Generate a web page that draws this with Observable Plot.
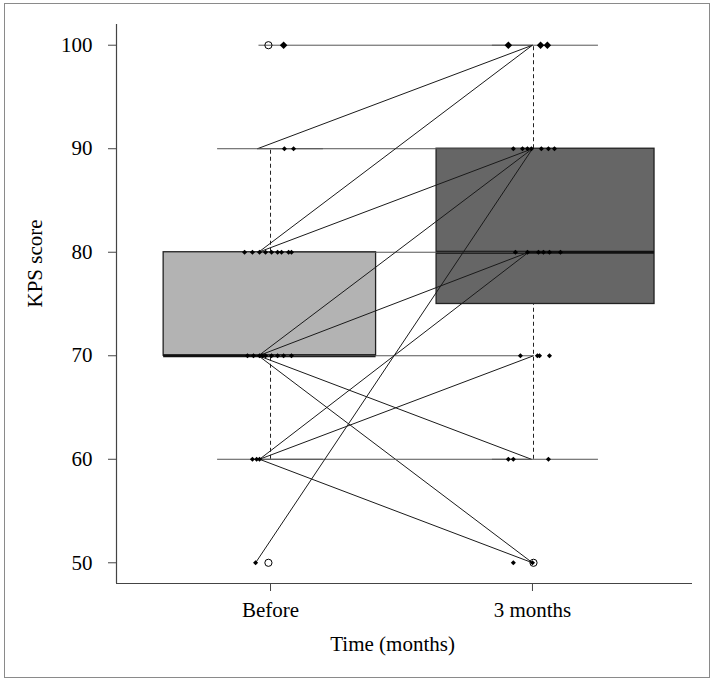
<!DOCTYPE html>
<html>
<head>
<meta charset="utf-8">
<script src="https://cdn.jsdelivr.net/npm/d3@7"></script>
<script src="https://cdn.jsdelivr.net/npm/@observablehq/plot@0.6"></script>
<style>
  html, body { margin: 0; padding: 0; background: #fff; }
  #wrap { position: relative; width: 717px; height: 683px; }
  #wrap svg { position: absolute; left: 0; top: 0; }
  #border { position: absolute; left: 4px; top: 3px; width: 706px; height: 675px;
            box-sizing: border-box; border: 1.5px solid #8a8a8a; pointer-events: none; }
</style>
</head>
<body>
<div id="wrap"><div id="border"></div></div>
<script>
// ---------- data ----------
const groups = ["Before", "3 months"];
const groupPos = [1, 2];
const yTicks = [50, 60, 70, 80, 90, 100];
const xDomain = [0.412, 2.611];
const yDomain = [48, 102];

// box summaries (per group)
const boxLeft = [0.592, 1.634];
const boxRight = [1.403, 2.466];
const q1 = [70, 75];
const medians = [70, 80];
const q3 = [80, 90];
const whiskerX = [1.0, 2.004];
const whiskerLow = [60, 60];
const whiskerHigh = [90, 100];
const capLeft = [0.798, 1.847];
const capRight = [1.202, 2.252];

// outliers (open circles)
const outlierX = [0.992, 0.992, 2.004];
const outlierY = [100, 50, 50];

// individual scores (jittered x)
const beforeX = [1.050,
  1.053, 1.088,
  0.901, 0.931, 0.958, 0.981, 1.004, 1.027, 1.042, 1.069, 1.080,
  0.912, 0.935, 0.958, 0.969, 0.981, 1.004, 1.027, 1.050, 1.080,
  0.931, 0.947, 0.958,
  0.943];
const beforeY = [100,
  90, 90,
  80, 80, 80, 80, 80, 80, 80, 80, 80,
  70, 70, 70, 70, 70, 70, 70, 70, 70,
  60, 60, 60,
  50];
const afterX = [1.908, 2.031, 2.057,
  1.927, 1.962, 1.981, 1.996, 2.034, 2.061, 2.084,
  1.935, 1.981, 2.023, 2.042, 2.065, 2.107,
  1.954, 2.019, 2.027, 2.065,
  1.908, 1.927, 2.061,
  1.927, 2.000];
const afterY = [100, 100, 100,
  90, 90, 90, 90, 90, 90, 90,
  80, 80, 80, 80, 80, 80,
  70, 70, 70, 70,
  60, 60, 60,
  50, 50];

// paired change lines (before -> 3 months)
const pairFromY = [100, 90, 90, 80, 80, 80, 70, 70, 70, 70, 70, 60, 60, 60, 60, 50];
const pairToY   = [100, 100, 90, 100, 90, 80, 90, 80, 70, 60, 50, 80, 70, 60, 50, 90];
const pairFromX = [0.954, 0.950, 0.950, 0.954, 0.954, 0.954, 0.954, 0.954, 0.954, 0.954, 0.954, 0.958, 0.958, 0.958, 0.958, 0.943];
const pairToX   = [2.000, 2.000, 2.000, 2.000, 2.000, 1.985, 2.000, 1.985, 2.004, 1.996, 2.000, 1.985, 2.004, 1.996, 2.000, 2.000];

// ---------- tables ----------
const boxes = groups.map((g, i) => ({g, x1: boxLeft[i], x2: boxRight[i], q1: q1[i], med: medians[i], q3: q3[i]}));
const whiskers = groups.flatMap((g, i) => [
  {x: whiskerX[i], y1: q3[i], y2: whiskerHigh[i]},
  {x: whiskerX[i], y1: whiskerLow[i], y2: q1[i]}
]);
const caps = groups.flatMap((g, i) => [
  {y: whiskerHigh[i], x1: capLeft[i], x2: capRight[i]},
  {y: whiskerLow[i], x1: capLeft[i], x2: capRight[i]}
]);
const outliers = outlierX.map((x, i) => ({x, y: outlierY[i]}));
const points = [
  ...beforeX.map((x, i) => ({x, y: beforeY[i]})),
  ...afterX.map((x, i) => ({x, y: afterY[i]}))
];
const pairs = pairFromY.map((y1, i) => ({x1: pairFromX[i], y1, x2: pairToX[i], y2: pairToY[i]}));

const font = "'Liberation Serif', 'Times New Roman', serif";

const chart = Plot.plot({
  width: 717,
  height: 683,
  marginLeft: 116,
  marginRight: 25,
  marginTop: 24,
  marginBottom: 100,
  style: {fontFamily: font, fontSize: "21px", background: "transparent", color: "black"},
  x: {type: "linear", domain: xDomain, axis: null},
  y: {domain: yDomain, axis: null},
  color: {type: "ordinal", domain: groups, range: ["#b3b3b3", "#666666"]},
  marks: [
    // whisker caps
    Plot.ruleY(caps, {y: "y", x1: "x1", x2: "x2", stroke: "#555", strokeWidth: 1}),
    // boxes
    Plot.rect(boxes, {x1: "x1", x2: "x2", y1: "q1", y2: "q3", fill: "g", stroke: "#222", strokeWidth: 1.3}),
    // medians
    Plot.ruleY(boxes, {y: "med", x1: "x1", x2: "x2", stroke: "#111", strokeWidth: 3}),
    // whiskers
    Plot.ruleX(whiskers, {x: "x", y1: "y1", y2: "y2", stroke: "#222", strokeWidth: 1, strokeDasharray: "4,3"}),
    // paired lines
    Plot.link(pairs, {x1: "x1", y1: "y1", x2: "x2", y2: "y2",
      stroke: d => d.y1 === d.y2 ? "#555" : "#1a1a1a", strokeWidth: 1}),
    // individual points
    Plot.dot(points.filter(d => d.y !== 100), {x: "x", y: "y", symbol: "diamond2", fill: "black", r: 2.3}),
    Plot.dot(points.filter(d => d.y === 100), {x: "x", y: "y", symbol: "diamond2", fill: "black", r: 3.4}),
    // outliers
    Plot.dot(outliers, {x: "x", y: "y", r: 3.6, stroke: "black", fill: "none", strokeWidth: 1}),
    // axis lines
    Plot.ruleX([xDomain[0]], {stroke: "#444", strokeWidth: 1.2}),
    Plot.ruleY([yDomain[0]], {stroke: "#444", strokeWidth: 1.2}),
    // axes
    Plot.axisY({ticks: yTicks, tickSize: 8, tickPadding: 16, stroke: "#444", fill: "black", fontSize: 21, label: null}),
    Plot.axisX({ticks: groupPos, tickFormat: d => groups[d - 1], tickSize: 8, tickPadding: 11, stroke: "#444", fill: "black", fontSize: 21, label: null}),
    // axis titles
    Plot.text(["Time (months)"], {x: 1.466, frameAnchor: "bottom", dy: 67, text: d => d, fontSize: 21, fill: "black"}),
    Plot.text(["KPS score"], {frameAnchor: "left", rotate: -90, dx: -81, dy: 3.5, text: d => d, fontSize: 21, fill: "black"})
  ]
});
document.getElementById("wrap").insertBefore(chart, document.getElementById("border"));
</script>
</body>
</html>
